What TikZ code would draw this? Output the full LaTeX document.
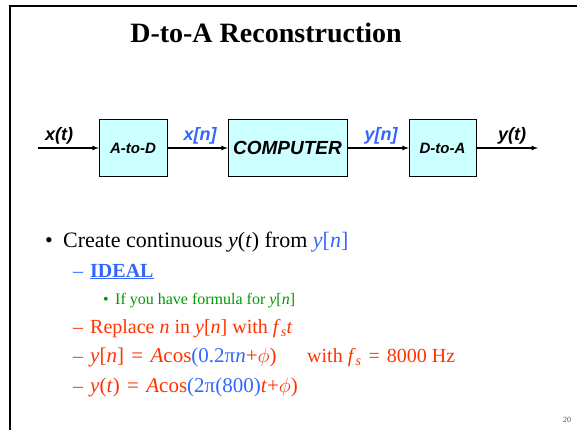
\documentclass[tikz,border=0pt]{standalone}
\usepackage{fontspec}
\setmainfont{Liberation Serif}
\newfontfamily\arialfont{Liberation Sans}
\usetikzlibrary{positioning}
\definecolor{slideblue}{HTML}{3366FF}
\definecolor{slidered}{HTML}{FF3300}
\definecolor{slidegreen}{HTML}{009900}
\definecolor{boxcyan}{HTML}{CCFFFF}
\newcommand{\fsamp}{\textit{f}\textsubscript{\textit{s}}}
\newcommand{\eqs}{\hspace{0.35em}=\hspace{0.35em}}

\begin{document}
\begin{tikzpicture}[x=1pt, y=-1pt,
        block/.style={draw=black, fill=boxcyan, minimum height=57pt, inner sep=0pt},
        signal/.style={anchor=base, inner sep=0pt, font=\arialfont\bfseries\itshape\fontsize{18}{20}\selectfont},
        lvlone/.style={anchor=base west, inner sep=0pt, font=\fontsize{22}{26}\selectfont},
        lvltwo/.style={anchor=base west, inner sep=0pt, font=\fontsize{20}{24}\selectfont},
        lvleq/.style={anchor=base west, inner sep=0pt, font=\fontsize{21}{25}\selectfont},
        lvlthree/.style={anchor=base west, inner sep=0pt, font=\fontsize{16}{19}\selectfont},
        >=latex
    ]
    \useasboundingbox (0,0) rectangle (577,430);

    % slide frame and title
    \draw[line width=2.5pt] (10,430) -- (10,6) -- (577,6);
    \node[anchor=base, inner sep=0pt, font=\bfseries\fontsize{28}{32}\selectfont] (title) at (266,43) {D-to-A Reconstruction};

    % block diagram
    \node[block, minimum width=68pt, font=\arialfont\bfseries\itshape\fontsize{15}{18}\selectfont] (atod) at (133,148) {A-to-D};
    \node[block, minimum width=119pt, font=\arialfont\bfseries\itshape\fontsize{19}{22}\selectfont] (comp) at (287.5,148) {COMPUTER};
    \node[block, minimum width=67pt, font=\arialfont\bfseries\itshape\fontsize{15}{18}\selectfont] (dtoa) at (442.5,148) {D-to-A};
    \coordinate (in) at (38,148);
    \coordinate (out) at (538,148);
    \draw[->, very thick] (in) -- (atod);
    \draw[->, very thick] (atod) -- (comp);
    \draw[->, very thick] (comp) -- (dtoa);
    \draw[->, very thick] (dtoa) -- (out);
    \node[signal] (xt) at (59,141) {x(t)};
    \node[signal, text=slideblue] (xn) at (200,141) {x[n]};
    \node[signal, text=slideblue] (yn) at (381,141) {y[n]};
    \node[signal] (yt) at (512,141) {y(t)};

    % bullet list
    \node[lvlone] (dot1) at (45,247) {•};
    \node[lvlone] (create) at (63,247) {Create continuous \textit{y}(\textit{t}) from \textcolor{slideblue}{\textit{y}[\textit{n}]}};
    \node[lvltwo, text=slideblue] (dash1) at (73,277) {–};
    \node[lvltwo, text=slideblue] (ideal) at (90,277) {\underline{\textbf{IDEAL}}};
    \node[lvlthree, text=slidegreen] (dot2) at (103,304) {•};
    \node[lvlthree, text=slidegreen] (formula) at (115,304) {If you have formula for \textit{y}[\textit{n}]};
    \node[lvltwo, text=slidered] (dash2) at (73,333) {–};
    \node[lvltwo, text=slidered] (replace) at (90,333) {Replace \textit{n} in \textit{y}[\textit{n}] with \fsamp\textit{t}};
    \node[lvltwo, text=slidered] (dash3) at (73,362) {–};
    \node[lvleq, text=slidered] (discrete) at (90,362) {\textit{y}[\textit{n}]\eqs\textit{A}cos\textcolor{slideblue}{(0.2π\textit{n}}+$\phi$)};
    \node[lvltwo, text=slidered] (rate) at (307,362) {with \fsamp\eqs 8000 Hz};
    \node[lvltwo, text=slidered] (dash4) at (73,392) {–};
    \node[lvleq, text=slidered] (contin) at (90,392) {\textit{y}(\textit{t})\eqs\textit{A}cos\textcolor{slideblue}{(2π(800)}\textit{t}+$\phi$)};

    % slide number
    \node[anchor=base, inner sep=0pt, text=black!70, font=\fontsize{8}{10}\selectfont] (pagenum) at (567,422) {20};
\end{tikzpicture}
\end{document}
